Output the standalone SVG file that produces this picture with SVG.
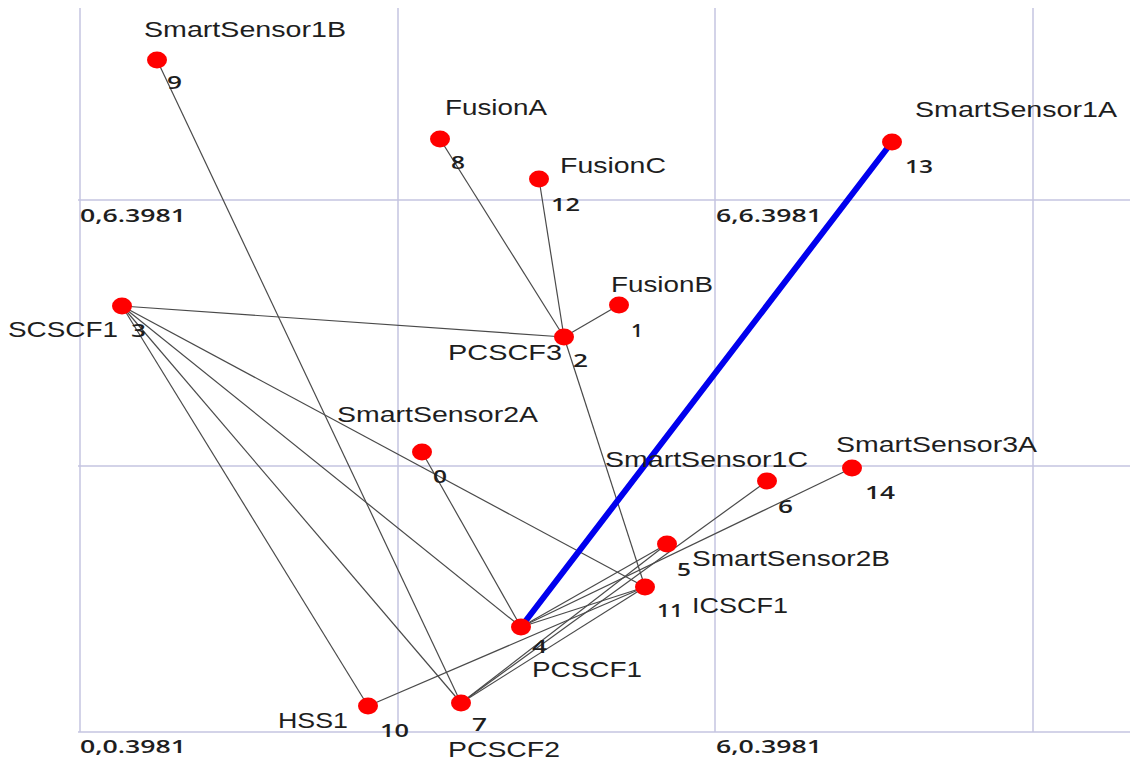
<svg xmlns="http://www.w3.org/2000/svg" width="1130" height="760" viewBox="0 0 1130 760">
<style>
.grid{stroke:#c4c4e0;stroke-width:1.5;fill:none}
.edge{stroke:#4a4a4a;stroke-width:1.2;fill:none}
.hl{stroke:#0000ee;stroke-width:6;stroke-linecap:round;fill:none}
.dot{fill:#ff0000}
.name{font-family:"Liberation Sans",Arial,sans-serif;font-size:22px;fill:#1e1e1e}
.num{font-family:"Open Sans","DejaVu Sans",sans-serif;font-size:18px;font-weight:600;fill:#1e1e1e}
.axis{font-family:"Open Sans","DejaVu Sans",sans-serif;font-size:18px;font-weight:600;fill:#1e1e1e}
</style>
<rect width="1130" height="760" fill="#ffffff"/>
<g id="grid">
<line class="grid" x1="80" y1="8" x2="80" y2="732"/>
<line class="grid" x1="398" y1="8" x2="398" y2="732"/>
<line class="grid" x1="715" y1="8" x2="715" y2="732"/>
<line class="grid" x1="1033" y1="8" x2="1033" y2="732"/>
<line class="grid" x1="78" y1="200" x2="1130" y2="200"/>
<line class="grid" x1="78" y1="466" x2="1130" y2="466"/>
<line class="grid" x1="78" y1="732" x2="1130" y2="732"/>
</g>
<g id="axis-labels">
<text class="axis" x="80" y="222" textLength="106" lengthAdjust="spacingAndGlyphs">0,6.3981</text>
<text class="axis" x="716" y="222" textLength="106" lengthAdjust="spacingAndGlyphs">6,6.3981</text>
<text class="axis" x="80" y="753" textLength="106" lengthAdjust="spacingAndGlyphs">0,0.3981</text>
<text class="axis" x="716" y="753" textLength="106" lengthAdjust="spacingAndGlyphs">6,0.3981</text>
</g>
<g id="connectors">
<line class="edge" x1="157" y1="60" x2="461" y2="703"/>
<line class="edge" x1="440" y1="139" x2="564" y2="337"/>
<line class="edge" x1="539" y1="179" x2="564" y2="337"/>
<line class="edge" x1="619" y1="305" x2="564" y2="337"/>
<line class="edge" x1="122" y1="306" x2="564" y2="337"/>
<line class="edge" x1="564" y1="337" x2="645" y2="587"/>
<line class="edge" x1="122" y1="306" x2="645" y2="587"/>
<line class="edge" x1="122" y1="306" x2="521" y2="627"/>
<line class="edge" x1="122" y1="306" x2="461" y2="703"/>
<line class="edge" x1="122" y1="306" x2="368" y2="706"/>
<line class="edge" x1="422" y1="452" x2="521" y2="627"/>
<line class="edge" x1="368" y1="706" x2="645" y2="587"/>
<line class="edge" x1="521" y1="627" x2="645" y2="587"/>
<line class="edge" x1="521" y1="627" x2="667" y2="544"/>
<line class="edge" x1="521" y1="627" x2="852" y2="468"/>
<line class="edge" x1="461" y1="703" x2="645" y2="587"/>
<line class="edge" x1="461" y1="703" x2="667" y2="544"/>
<line class="edge" x1="461" y1="703" x2="767" y2="481"/>
<line class="hl" x1="521" y1="627" x2="892" y2="142"/>
</g>
<g id="node-9"><ellipse class="dot" cx="157" cy="60" rx="10" ry="8.5"/><text class="name" x="144" y="37" textLength="202" lengthAdjust="spacingAndGlyphs">SmartSensor1B</text><text class="num" x="167" y="89" textLength="15" lengthAdjust="spacingAndGlyphs">9</text></g>
<g id="node-8"><ellipse class="dot" cx="440" cy="139" rx="10" ry="8.5"/><text class="name" x="445" y="115" textLength="102" lengthAdjust="spacingAndGlyphs">FusionA</text><text class="num" x="451" y="169" textLength="14" lengthAdjust="spacingAndGlyphs">8</text></g>
<g id="node-12"><ellipse class="dot" cx="539" cy="179" rx="10" ry="8.5"/><text class="name" x="560" y="173" textLength="106" lengthAdjust="spacingAndGlyphs">FusionC</text><text class="num" x="551" y="211" textLength="29" lengthAdjust="spacingAndGlyphs">12</text></g>
<g id="node-13"><ellipse class="dot" cx="892" cy="142" rx="10" ry="8.5"/><text class="name" x="915" y="117" textLength="202" lengthAdjust="spacingAndGlyphs">SmartSensor1A</text><text class="num" x="905" y="173" textLength="28" lengthAdjust="spacingAndGlyphs">13</text></g>
<g id="node-1"><ellipse class="dot" cx="619" cy="305" rx="10" ry="8.5"/><text class="name" x="611" y="292" textLength="102" lengthAdjust="spacingAndGlyphs">FusionB</text><text class="num" x="631" y="337" textLength="12" lengthAdjust="spacingAndGlyphs">1</text></g>
<g id="node-2"><ellipse class="dot" cx="564" cy="337" rx="10" ry="8.5"/><text class="name" x="448" y="360" textLength="114" lengthAdjust="spacingAndGlyphs">PCSCF3</text><text class="num" x="573" y="367" textLength="15" lengthAdjust="spacingAndGlyphs">2</text></g>
<g id="node-3"><ellipse class="dot" cx="122" cy="306" rx="10" ry="8.5"/><text class="name" x="8" y="337" textLength="110" lengthAdjust="spacingAndGlyphs">SCSCF1</text><text class="num" x="131" y="337" textLength="15" lengthAdjust="spacingAndGlyphs">3</text></g>
<g id="node-0"><ellipse class="dot" cx="422" cy="452" rx="10" ry="8.5"/><text class="name" x="337" y="422" textLength="201" lengthAdjust="spacingAndGlyphs">SmartSensor2A</text><text class="num" x="433" y="483" textLength="14" lengthAdjust="spacingAndGlyphs">0</text></g>
<g id="node-6"><ellipse class="dot" cx="767" cy="481" rx="10" ry="8.5"/><text class="name" x="605" y="467" textLength="203" lengthAdjust="spacingAndGlyphs">SmartSensor1C</text><text class="num" x="778" y="513" textLength="15" lengthAdjust="spacingAndGlyphs">6</text></g>
<g id="node-14"><ellipse class="dot" cx="852" cy="468" rx="10" ry="8.5"/><text class="name" x="836" y="452" textLength="201" lengthAdjust="spacingAndGlyphs">SmartSensor3A</text><text class="num" x="865" y="499" textLength="30" lengthAdjust="spacingAndGlyphs">14</text></g>
<g id="node-5"><ellipse class="dot" cx="667" cy="544" rx="10" ry="8.5"/><text class="name" x="692" y="566" textLength="198" lengthAdjust="spacingAndGlyphs">SmartSensor2B</text><text class="num" x="677" y="576" textLength="14" lengthAdjust="spacingAndGlyphs">5</text></g>
<g id="node-11"><ellipse class="dot" cx="645" cy="587" rx="10" ry="8.5"/><text class="name" x="692" y="613" textLength="96" lengthAdjust="spacingAndGlyphs">ICSCF1</text><text class="num" x="657" y="617" textLength="26" lengthAdjust="spacingAndGlyphs">11</text></g>
<g id="node-4"><ellipse class="dot" cx="521" cy="627" rx="10" ry="8.5"/><text class="name" x="532" y="677" textLength="110" lengthAdjust="spacingAndGlyphs">PCSCF1</text><text class="num" x="532" y="653" textLength="15" lengthAdjust="spacingAndGlyphs">4</text></g>
<g id="node-10"><ellipse class="dot" cx="368" cy="706" rx="10" ry="8.5"/><text class="name" x="278" y="728" textLength="70" lengthAdjust="spacingAndGlyphs">HSS1</text><text class="num" x="380" y="737" textLength="29" lengthAdjust="spacingAndGlyphs">10</text></g>
<g id="node-7"><ellipse class="dot" cx="461" cy="703" rx="10" ry="8.5"/><text class="name" x="448" y="757" textLength="112" lengthAdjust="spacingAndGlyphs">PCSCF2</text><text class="num" x="472" y="731" textLength="15" lengthAdjust="spacingAndGlyphs">7</text></g>
</svg>
